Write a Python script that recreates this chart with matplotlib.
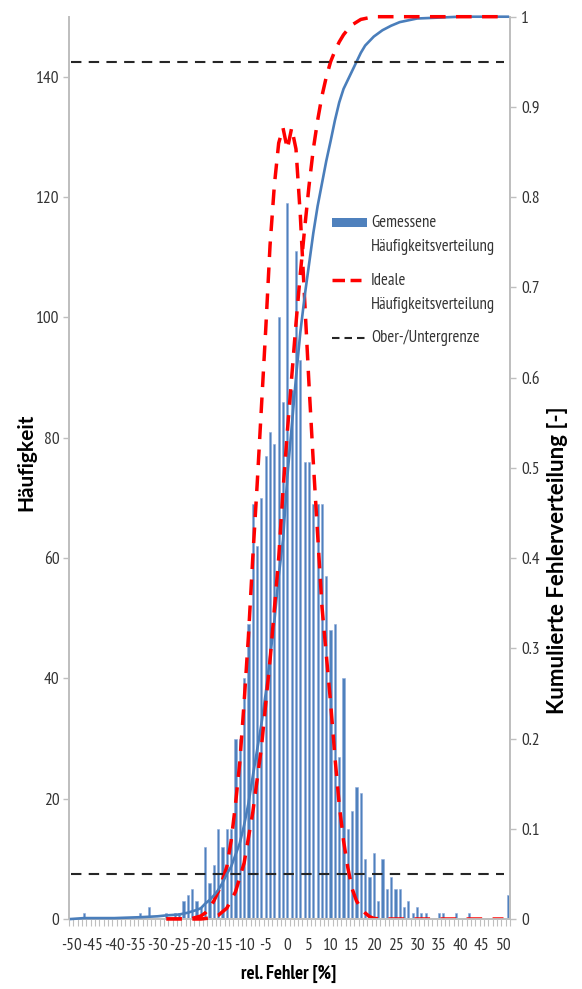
import matplotlib
matplotlib.use("Agg")
import matplotlib.pyplot as plt
from matplotlib import font_manager as fm
from matplotlib.patches import Rectangle
from matplotlib.lines import Line2D
import numpy as np

_names = {f.name for f in fm.fontManager.ttflist}


def pick(cands, default='Lato'):
    for c in cands:
        if c in _names:
            return c
    return default


COND = pick(['PT Sans Narrow', 'Fira Sans Condensed', 'Open Sans Condensed', 'Roboto Condensed',
             'Archivo Narrow', 'Liberation Sans Narrow'])
BASE = pick(['Lato', 'Carlito'])
plt.rcParams['font.family'] = [COND, 'Lato', 'DejaVu Sans']

# categories: relative error in %, -50 .. 51
categories = list(range(-50, 52))
counts = [
    0, 0, 0, 1, 0, 0, 0, 0, 0, 0,          # -50..-41
    0, 0, 0, 0, 0, 0, 1, 0, 2, 0,          # -40..-31
    0, 0, 1, 0, 1, 1, 3, 4, 5, 3,          # -30..-21
    2, 12, 6, 9, 15, 12, 15, 15, 30, 30,   # -20..-11
    40, 49, 69, 62, 70, 77, 81, 79, 100, 86,  # -10..-1
    119, 88, 111, 93, 76, 76, 69, 69, 69, 57,  # 0..9
    48, 49, 27, 40, 15, 18, 22, 21, 10, 7,     # 10..19
    11, 3, 10, 5, 7, 5, 5, 2, 3, 1,            # 20..29
    2, 1, 1, 0, 0, 1, 1, 0, 0, 1,              # 30..39
    0, 0, 1, 0, 0, 0, 0, 0, 0, 0,              # 40..49
    0, 4                                       # 50, 51
]

# measured cumulative distribution (right axis)
cum_x = [-50, -47, -40, -34, -30, -28, -25, -23, -21, -20, -19, -18, -17, -16, -15, -14, -13,
         -12, -11, -10, -9, -8, -7, -6, -5, -4, -3, -2, -1, 0, 1, 2, 3, 4, 5, 6, 7, 8, 9, 10,
         11, 12, 13, 14, 15, 16, 17, 18, 20, 22, 24, 26, 28, 30, 35, 40, 45, 50, 51]
cum_y = [0.0, 0.001, 0.001, 0.002, 0.003, 0.004, 0.005, 0.007, 0.010, 0.012, 0.017, 0.021,
         0.026, 0.032, 0.040, 0.050, 0.058, 0.071, 0.084, 0.104, 0.128, 0.158, 0.187, 0.216,
         0.250, 0.290, 0.330, 0.380, 0.420, 0.490, 0.545, 0.600, 0.650, 0.690, 0.725, 0.760,
         0.790, 0.815, 0.840, 0.862, 0.885, 0.905, 0.920, 0.930, 0.940, 0.950, 0.960, 0.968,
         0.978, 0.985, 0.990, 0.994, 0.996, 0.998, 0.999, 1.0, 1.0, 1.0, 1.0]

# ideal frequency distribution (left axis)
ideal_x = [-28, -25, -22, -20, -19, -18, -17, -16, -15, -14, -13, -12, -11, -10, -9, -8, -7,
           -6, -5, -4, -3, -2, -1, 0, 1, 2, 3, 4, 5, 6, 7, 8, 9, 10, 11, 12, 13, 14, 15, 16,
           17, 18, 19, 20, 22, 25, 30, 35, 40, 45, 50]
ideal_y = [0.0, 0.0, 0.1, 0.5, 1.0, 1.8, 3.0, 4.5, 6.5, 8.7, 13.0, 19.0, 26.0, 36.0, 47.0,
           60.0, 72.0, 85.0, 98.0, 112.0, 122.0, 129.0, 131.5, 128.0, 131.5, 128.0, 117.0,
           103.0, 89.0, 76.0, 64.0, 52.0, 44.0, 36.0, 27.0, 19.0, 13.0, 8.5, 5.0, 3.0, 1.8,
           1.0, 0.4, 0.1, 0.0, 0.0, 0.0, 0.0, 0.0, 0.0, 0.0]

# ideal cumulative distribution (right axis)
icum_x = [-28, -22, -20, -18, -16, -14, -12, -10, -8, -6, -4, -2, -1, 0, 1, 2, 3, 4, 5, 6, 7,
          8, 9, 10, 11, 12, 13, 14, 15, 16, 17, 18, 19, 20, 25, 30, 35, 40, 45, 50]
icum_y = [0.0, 0.0, 0.0, 0.001, 0.004, 0.012, 0.030, 0.062, 0.118, 0.190, 0.287, 0.400,
          0.475, 0.540, 0.600, 0.660, 0.715, 0.765, 0.812, 0.853, 0.885, 0.912, 0.933, 0.950,
          0.962, 0.972, 0.980, 0.986, 0.991, 0.994, 0.997, 0.998, 0.999, 1.0, 1.0, 1.0, 1.0,
          1.0, 1.0, 1.0]

limits = [0.05, 0.95]
x_ticks = list(range(-50, 51, 5))
left_ticks = list(range(0, 141, 20))
right_ticks = [0, 0.1, 0.2, 0.3, 0.4, 0.5, 0.6, 0.7, 0.8, 0.9, 1]
right_labels = ['0', '0.1', '0.2', '0.3', '0.4', '0.5', '0.6', '0.7', '0.8', '0.9', '1']
legend_labels = [['Gemessene', 'Häufigkeitsverteilung'], ['Ideale', 'Häufigkeitsverteilung'],
                 ['Ober-/Untergrenze']]

W, H = 582, 989
fig = plt.figure(figsize=(W / 100, H / 100), dpi=100)
ax = fig.add_axes([69 / W, (H - 919) / H, 441 / W, (919 - 16.7) / H])
ax2 = ax.twinx()

grey = '#BFBFBF'
txt = '#333333'
blue = '#4F81BD'
red = '#FF0000'
dark = '#262626'

ax.bar(categories, counts, width=0.5, color=blue, edgecolor='#8EAADB',
       linewidth=0.4, zorder=2)
ax.plot(ideal_x, ideal_y, color=red, lw=2.5, dashes=(4.5, 3.0), zorder=4)

ax2.plot(cum_x, cum_y, color='#4A7EBB', lw=1.9, zorder=3, clip_on=False)
ax2.plot(icum_x, icum_y, color=red, lw=2.5, dashes=(4.5, 3.0), zorder=4, clip_on=False)
for lv in limits:
    ax2.hlines(lv, -50, 50, colors=dark, linestyles=(0, (5, 3.5)), lw=1.5, zorder=5)

ax.set_xlim(-50.5, 51.5)
ax.set_ylim(0, 150)
ax2.set_ylim(0, 1)

for a in (ax, ax2):
    a.spines['top'].set_visible(False)
    for s in ('left', 'right', 'bottom'):
        a.spines[s].set_color(grey)
        a.spines[s].set_linewidth(1.3)

ax.set_xticks(x_ticks)
ax.set_xticklabels([str(t) for t in x_ticks])
ax.set_xticks(np.arange(-50.5, 51.6, 1), minor=True)
ax.tick_params(axis='x', which='major', length=0, pad=14, labelsize=12.5, labelcolor=txt)
ax.tick_params(axis='x', which='minor', length=5, color=grey, width=0.8)
ax.set_yticks(left_ticks)
ax.tick_params(axis='y', length=4, color=grey, width=1, labelsize=12.5, labelcolor=txt, pad=3)
ax2.set_yticks(right_ticks)
ax2.set_yticklabels(right_labels)
ax2.tick_params(axis='y', length=4, color=grey, width=1, labelsize=12.5, labelcolor=txt, pad=4)

fig.text(26 / W, 1 - 462 / H, 'Häufigkeit', rotation=90, ha='center', va='center',
         fontsize=15, fontweight='bold', color='#000000', family=[BASE, 'DejaVu Sans'])
fig.text(557 / W, 1 - 560 / H, 'Kumulierte Fehlerverteilung [-]', rotation=90, ha='center',
         va='center', fontsize=16, fontweight='bold', color='#000000',
         family=[BASE, 'DejaVu Sans'])
fig.text(289 / W, 1 - 974 / H, 'rel. Fehler [%]', ha='center', va='center',
         fontsize=13.5, fontweight='bold', color='#000000')


# legend drawn in figure pixel coordinates
def fx(px):
    return px / W


def fy(py):
    return 1 - py / H


fig.patches.append(Rectangle((fx(331.5), fy(227)), fx(366.5) - fx(331.5), fy(218) - fy(227),
                             transform=fig.transFigure, facecolor=blue, edgecolor='none'))
fig.lines.append(Line2D([fx(331.5), fx(361)], [fy(280), fy(280)], transform=fig.transFigure,
                        color=red, lw=2.5, dashes=(3.6, 1.6)))
fig.lines.append(Line2D([fx(331.5), fx(367)], [fy(338), fy(338)], transform=fig.transFigure,
                        color=dark, lw=1.5, dashes=(3.6, 2.4)))
line_y = [[223, 247], [281, 305], [338]]
for lab, ys in zip(legend_labels, line_y):
    for s, yy in zip(lab, ys):
        fig.text(fx(371), fy(yy), s, ha='left', va='center', fontsize=12, color=txt)

fig.savefig('out.png', dpi=100, facecolor='white')
